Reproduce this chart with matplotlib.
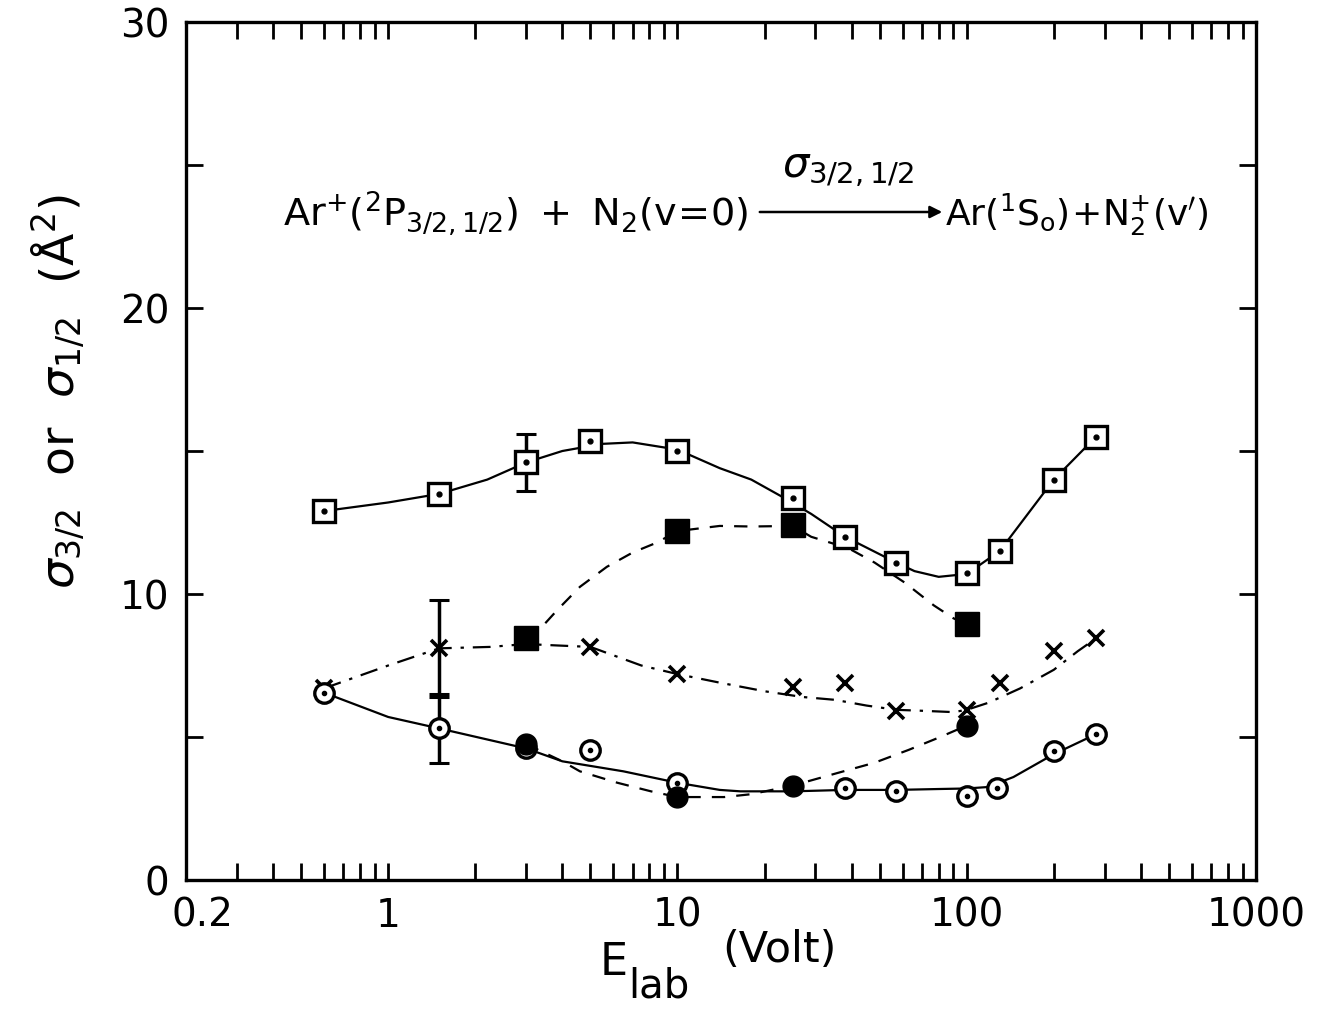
import matplotlib
matplotlib.use("Agg")
import matplotlib.pyplot as plt
from matplotlib.ticker import FixedLocator, NullFormatter
from matplotlib.transforms import ScaledTranslation

# Ar+ + N2 charge transfer cross sections vs lab energy
# open squares: sigma_3/2 measured, filled squares: sigma_1/2
e_sq_open = [0.6, 1.5, 3, 5, 10, 25, 38, 57, 100, 130, 200, 280]
sig_sq_open = [12.9, 13.5, 14.6, 15.35, 15.0, 13.35, 12.0, 11.1, 10.75, 11.5, 14.0, 15.5]

e_sq_fill = [3, 10, 25, 100]
sig_sq_fill = [8.45, 12.2, 12.4, 8.95]

e_cross = [0.6, 1.5, 5, 10, 25, 38, 57, 100, 130, 200, 280]
sig_cross = [6.7, 8.1, 8.15, 7.2, 6.75, 6.9, 5.9, 5.95, 6.9, 8.0, 8.45]

e_circ_open = [0.6, 1.5, 3, 5, 10, 38, 57, 100, 127, 200, 280]
sig_circ_open = [6.55, 5.3, 4.6, 4.55, 3.4, 3.2, 3.1, 2.95, 3.2, 4.5, 5.1]

e_circ_fill = [3, 10, 25, 100]
sig_circ_fill = [4.75, 2.9, 3.3, 5.4]

# error bars: (energy, value, half-width)
err_sq = (3, 14.6, 1.0)
err_cross = (1.5, 8.1, 1.7)
err_circ = (1.5, 5.3, 1.2)

# hand-drawn guide curves
fit_sq_open_e = [0.6, 1.0, 1.5, 2.2, 3, 4, 5.5, 7, 10, 14, 18, 23, 29, 38, 57, 66, 80, 100, 130, 200, 280]
fit_sq_open_s = [12.9, 13.2, 13.5, 14.0, 14.6, 15.0, 15.25, 15.3, 15.05, 14.4, 14.0, 13.4, 12.8, 12.0, 11.1, 10.8, 10.6, 10.7, 11.5, 14.0, 15.5]

fit_sq_fill_e = [3, 3.4, 3.85, 4.6, 5.7, 7.0, 8.5, 10, 14, 18, 25, 29, 39, 48, 61, 77, 90, 100]
fit_sq_fill_s = [8.45, 8.85, 9.45, 10.25, 10.95, 11.45, 11.8, 12.2, 12.38, 12.36, 12.38, 12.0, 11.6, 11.1, 10.4, 9.6, 9.15, 8.95]

fit_cross_e = [0.6, 1.0, 1.5, 2.25, 3, 3.85, 5, 7.5, 10, 14, 20, 27, 35, 45, 57, 69, 90, 100, 119, 153, 200, 242, 280]
fit_cross_s = [6.7, 7.5, 8.1, 8.15, 8.25, 8.2, 8.15, 7.5, 7.2, 6.9, 6.6, 6.4, 6.3, 6.1, 5.95, 5.92, 5.87, 5.95, 6.2, 6.7, 7.35, 8.0, 8.45]

fit_circ_open_e = [0.6, 1.0, 1.5, 3, 4, 6.5, 10, 14, 16.5, 25, 38, 57, 79, 100, 118, 145, 200, 280]
fit_circ_open_s = [6.55, 5.7, 5.3, 4.6, 4.15, 3.8, 3.4, 3.15, 3.1, 3.1, 3.15, 3.15, 3.18, 3.2, 3.25, 3.6, 4.4, 5.1]

fit_circ_fill_e = [3, 4.0, 4.6, 6.2, 8.1, 10, 14.5, 18, 25, 36, 48, 63, 81, 100]
fit_circ_fill_s = [4.75, 4.15, 3.8, 3.4, 3.1, 2.9, 2.9, 3.0, 3.3, 3.75, 4.1, 4.55, 5.0, 5.4]

W, H = 1329, 1011
fig = plt.figure(figsize=(W / 100, H / 100), dpi=100)
ax = fig.add_axes([186 / W, 1 - 880 / H, (1256 - 186) / W, (880 - 22) / H])

plt.rcParams['mathtext.fontset'] = 'dejavusans'
txt_font = 'DejaVu Sans'

lw = 1.6
dash = (0, (6, 5))
dashdot = (0, (8, 4, 1.5, 4))

ax.plot(fit_sq_open_e, fit_sq_open_s, color='k', lw=lw, ls='-', zorder=2)
ax.plot(fit_sq_fill_e, fit_sq_fill_s, color='k', lw=lw, ls=dash, zorder=2)
ax.plot(fit_cross_e, fit_cross_s, color='k', lw=lw, ls=dashdot, zorder=2)
ax.plot(fit_circ_open_e, fit_circ_open_s, color='k', lw=lw, ls='-', zorder=2)
ax.plot(fit_circ_fill_e, fit_circ_fill_s, color='k', lw=lw, ls=dash, zorder=2)

for e, s, d in (err_sq, err_cross, err_circ):
    ax.errorbar([e], [s], yerr=[d], fmt='none', ecolor='k', elinewidth=2.5,
                capsize=7, capthick=2.2, zorder=3)

ax.plot(e_sq_open, sig_sq_open, ls='none', marker='s', ms=16, mfc='white',
        mec='k', mew=2.4, zorder=4)
ax.plot(e_sq_open, sig_sq_open, ls='none', marker='o', ms=3.5, color='k', zorder=5)
ax.plot(e_sq_fill, sig_sq_fill, ls='none', marker='s', ms=17, color='k', zorder=4)
ax.plot(e_cross, sig_cross, ls='none', marker='x', ms=12, mec='k', mew=2.6, zorder=4)
ax.plot(e_circ_open, sig_circ_open, ls='none', marker='o', ms=14, mfc='white',
        mec='k', mew=2.4, zorder=4)
ax.plot(e_circ_open, sig_circ_open, ls='none', marker='o', ms=3, color='k', zorder=5)
ax.plot(e_circ_fill, sig_circ_fill, ls='none', marker='o', ms=15, color='k', zorder=6)

ax.set_xscale('log')
ax.set_xlim(0.2, 1000)
ax.set_ylim(0, 30)

major_x = [0.2, 1, 10, 100, 1000]
minor_x = [m * 10 ** k for k in (-1, 0, 1, 2) for m in range(2, 10)]
minor_x = [v for v in minor_x if 0.2 < v < 1000 and v not in major_x]
ax.xaxis.set_major_locator(FixedLocator(major_x))
ax.xaxis.set_minor_locator(FixedLocator(minor_x))
ax.xaxis.set_minor_formatter(NullFormatter())
ax.set_xticklabels(['0.2', '1', '10', '100', '1000'])
ax.set_yticks([0, 5, 10, 15, 20, 25, 30])
ax.set_yticklabels(['0', '', '10', '', '20', '', '30'])

for sp in ax.spines.values():
    sp.set_linewidth(2.4)
ax.tick_params(which='both', direction='in', top=True, right=True, width=2.0,
               labelsize=28, colors='k')
ax.tick_params(axis='x', which='major', length=12, pad=12)
ax.tick_params(axis='x', which='minor', length=12)
ax.tick_params(axis='y', which='major', length=12, pad=12)
for lab in ax.get_xticklabels() + ax.get_yticklabels():
    lab.set_fontfamily(txt_font)
# nudge the 0.2 label clear of the y-axis zero
first = ax.get_xticklabels()[0]
first.set_transform(first.get_transform() + ScaledTranslation(0.16, 0, fig.dpi_scale_trans))

# axis titles
fig.text(58 / W, 1 - 392 / H, r'$\sigma_{3/2}$  or  $\sigma_{1/2}$  (Å$^{2}$)',
         rotation=90, ha='center', va='center', fontsize=34, family=txt_font)
fig.text(600 / W, 1 - 975 / H, 'E', ha='left', va='baseline', fontsize=32,
         family=txt_font)
fig.text(628 / W, 1 - 998 / H, 'lab', ha='left', va='baseline', fontsize=29,
         family=txt_font)
fig.text(722 / W, 1 - 962 / H, '(Volt)', ha='left', va='baseline', fontsize=31,
         family=txt_font)

# reaction scheme
fig.text(283 / W, 1 - 226 / H, r'$\mathrm{Ar^{+}(^{2}P_{3/2,1/2})\ +\ N_{2}(v\!=\!0)}$',
         ha='left', va='baseline', fontsize=27.5, family=txt_font)
fig.text(945 / W, 1 - 226 / H, r'$\mathrm{Ar(^{1}S_{o})\!+\!N_{2}^{+}(v^{\prime})}$',
         ha='left', va='baseline', fontsize=26, family=txt_font)
fig.patches.append(matplotlib.patches.FancyArrowPatch(
    (757 / W, 1 - 212 / H), (945 / W, 1 - 212 / H), transform=fig.transFigure,
    arrowstyle='-|>', mutation_scale=18, lw=1.8, color='k'))
fig.text(848 / W, 1 - 168 / H, r'$\sigma_{3/2,1/2}$', ha='center', va='center',
         fontsize=30, family=txt_font)

fig.savefig('out.png', dpi=100)
